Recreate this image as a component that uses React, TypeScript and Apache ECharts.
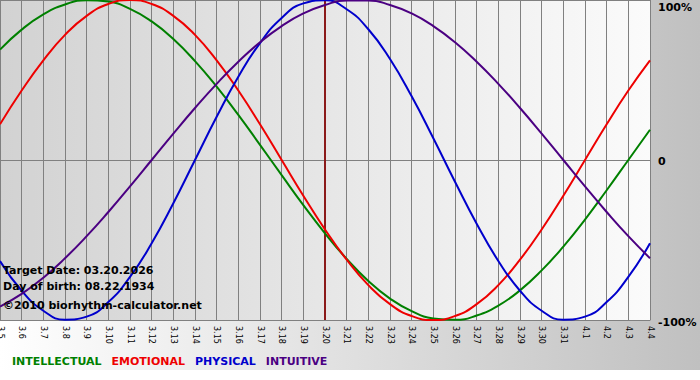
import React, { useEffect, useRef } from "react";
import * as echarts from "echarts";

const categories = [
  "3.5", "3.6", "3.7", "3.8", "3.9", "3.10", "3.11", "3.12", "3.13", "3.14",
  "3.15", "3.16", "3.17", "3.18", "3.19", "3.20", "3.21", "3.22", "3.23", "3.24",
  "3.25", "3.26", "3.27", "3.28", "3.29", "3.30", "3.31", "4.1", "4.2", "4.3", "4.4",
];

const intellectual = [
  69.0, 81.5, 91.0, 97.2, 99.9, 99.0, 94.5, 86.6, 75.6, 61.8, 45.8, 28.2, 9.5, -9.5, -28.2,
  -45.8, -61.8, -75.6, -86.6, -94.5, -99.0, -99.9, -97.2, -91.0, -81.5, -69.0, -54.1, -37.2,
  -18.9, 0, 18.9,
];

const emotional = [
  22.3, 43.4, 62.3, 78.2, 90.1, 97.5, 100, 97.5, 90.1, 78.2, 62.3, 43.4, 22.3, 0, -22.3,
  -43.4, -62.3, -78.2, -90.1, -97.5, -100, -97.5, -90.1, -78.2, -62.3, -43.4, -22.3, 0,
  22.3, 43.4, 62.3,
];

const physical = [
  -63.1, -81.7, -94.2, -99.8, -97.9, -88.8, -73.1, -52.0, -27.0, 0, 27.0, 52.0, 73.1, 88.8,
  97.9, 99.8, 94.2, 81.7, 63.1, 39.8, 13.6, -13.6, -39.8, -63.1, -81.7, -94.2, -99.8, -97.9,
  -88.8, -73.1, -52.0,
];

const intuitive = [
  -91.6, -83.7, -73.6, -61.4, -47.6, -32.5, -16.5, 0, 16.5, 32.5, 47.6, 61.4, 73.6, 83.7,
  91.6, 96.9, 99.7, 99.7, 96.9, 91.6, 83.7, 73.6, 61.4, 47.6, 32.5, 16.5, 0, -16.5, -32.5,
  -47.6, -61.4,
];

const targetDay = "3.20";
const infoLines = [
  "Target Date: 03.20.2026",
  "Day of birth: 08.22.1934",
  "\u00A92010 biorhythm-calculator.net",
];

const seriesDefs = [
  { name: "INTELLECTUAL", data: intellectual, color: "#008000" },
  { name: "EMOTIONAL", data: emotional, color: "#ee0000" },
  { name: "PHYSICAL", data: physical, color: "#0000cc" },
  { name: "INTUITIVE", data: intuitive, color: "#4b0082" },
];

const FONT = "DejaVu Sans";

export default function App() {
  const ref = useRef<HTMLDivElement>(null);

  useEffect(() => {
    document.body.style.margin = "0";
    if (!ref.current) return;
    const chart = echarts.init(ref.current, null, { renderer: "svg" });
    chart.setOption({
      animation: false,
      backgroundColor: "transparent",
      grid: {
        left: 0,
        right: 50,
        top: 0,
        bottom: 60,
        containLabel: false,
        outerBoundsMode: "none",
        show: true,
        borderWidth: 0,
        backgroundColor: {
          type: "linear",
          x: 0,
          y: 0,
          x2: 1,
          y2: 0,
          colorStops: [
            { offset: 0, color: "#d2d2d2" },
            { offset: 1, color: "#fbfbfb" },
          ],
        },
      },
      legend: {
        left: 2,
        top: 351,
        icon: "none",
        itemWidth: 0,
        itemHeight: 10,
        itemGap: 5,
        textStyle: { fontFamily: FONT, fontSize: 11, fontWeight: "bold" },
        data: seriesDefs.map((s) => ({ name: s.name, textStyle: { color: s.color } })),
      },
      xAxis: {
        type: "category",
        data: categories,
        boundaryGap: false,
        axisLine: { show: true, lineStyle: { color: "#808080", width: 1 } },
        axisTick: { show: true, interval: 0, length: 4, lineStyle: { color: "#808080" } },
        axisLabel: {
          interval: 0,
          rotate: -90,
          margin: 6,
          color: "#000",
          fontFamily: FONT,
          fontSize: 8,
          hideOverlap: false,
        },
        splitLine: { show: true, interval: 0, lineStyle: { color: "#808080", width: 1 } },
      },
      yAxis: {
        type: "value",
        position: "right",
        min: -100,
        max: 100,
        interval: 100,
        axisLine: { show: true, lineStyle: { color: "#808080", width: 1 } },
        axisTick: { show: false },
        splitLine: { show: true, lineStyle: { color: "#808080", width: 1 } },
        axisLabel: {
          margin: 8,
          color: "#000",
          fontFamily: FONT,
          fontSize: 11,
          fontWeight: "bold",
          formatter: (v: number) =>
            v === 100 ? "{t|100%}" : v === 0 ? "{m|0}" : "{b|-100%}",
          rich: {
            t: { padding: [14, 0, 0, 0], fontFamily: FONT, fontSize: 11, fontWeight: "bold", color: "#000" },
            m: { padding: [3, 0, 0, 0], fontFamily: FONT, fontSize: 11, fontWeight: "bold", color: "#000" },
            b: { padding: [4, 0, 0, 0], fontFamily: FONT, fontSize: 11, fontWeight: "bold", color: "#000" },
          },
        },
      },
      series: seriesDefs.map((s, i) => ({
        name: s.name,
        type: "line",
        data: s.data,
        smooth: 0.5,
        symbol: "none",
        color: s.color,
        lineStyle: { color: s.color, width: 2 },
        z: 3,
        ...(i === 0
          ? {
              markLine: {
                silent: true,
                symbol: "none",
                label: { show: false },
                lineStyle: { color: "#8b1a1a", width: 2, type: "solid" },
                data: [{ xAxis: targetDay }],
                z: 2,
              },
            }
          : {}),
      })),
      graphic: infoLines.map((t, i) => ({
        type: "text",
        left: 3,
        top: [265, 281, 300][i],
        z: 10,
        style: {
          text: t,
          fill: "#000",
          font: `bold 11px "${FONT}"`,
        },
      })),
    });
    return () => chart.dispose();
  }, []);

  return (
    <div
      style={{
        width: 700,
        height: 380,
        background:
          "linear-gradient(to right, #ffffff, #c0c0c0) top left / 100% 370px no-repeat, #ffffff",
      }}
    >
      <div ref={ref} style={{ width: 700, height: 380 }} />
    </div>
  );
}
